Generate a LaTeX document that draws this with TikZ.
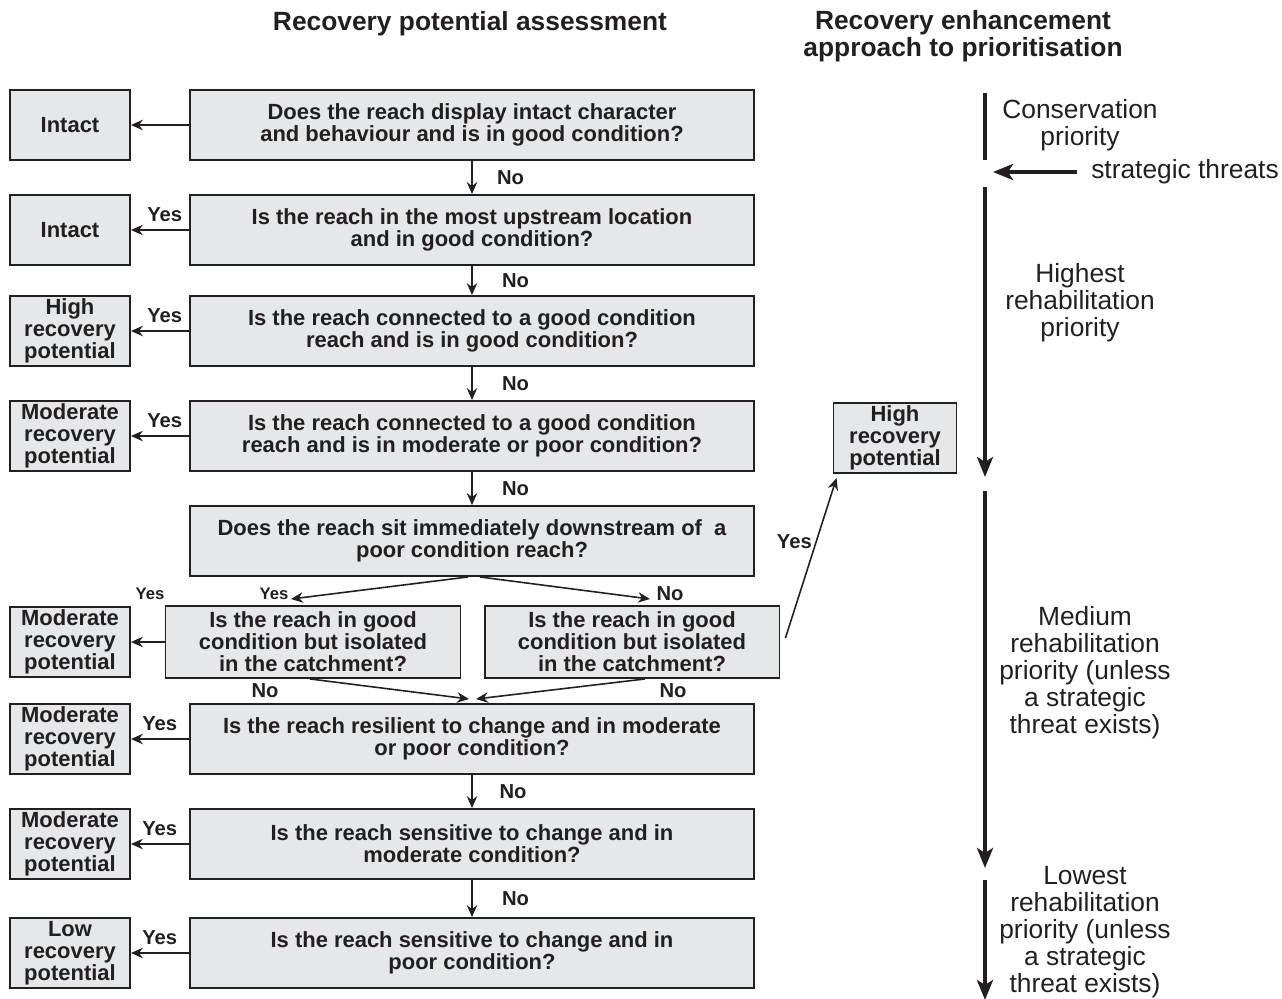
\documentclass[tikz,border=0pt]{standalone}
\usepackage{fontspec}
\setmainfont{Liberation Sans}
\usetikzlibrary{arrows.meta,positioning,calc}
\definecolor{boxgrey}{HTML}{E6E7E8}
\definecolor{ink}{HTML}{231F20}
\newcommand{\qfont}{\fontsize{12.5}{12.6}\selectfont\bfseries}
\newcommand{\afont}{\fontsize{11.5}{12}\selectfont\bfseries}
\newcommand{\smallafont}{\fontsize{9.5}{10}\selectfont\bfseries}
\newcommand{\pfont}{\fontsize{15}{15.4}\selectfont}
\newcommand{\tfont}{\fontsize{15}{15.4}\selectfont\bfseries}
\tikzset{
  qbox/.style    = {draw=ink, line width=1.1pt, fill=boxgrey, rectangle,
                    minimum width=11.3cm, minimum height=1.4cm, align=center,
                    font=\qfont, text=ink, inner sep=1pt},
  rbox/.style    = {qbox, minimum width=2.4cm},
  sbox/.style    = {qbox, minimum width=5.9cm, minimum height=1.44cm},
  flow/.style    = {-{Stealth[length=2.4mm,width=2.1mm,inset=0.8mm]}, line width=0.9pt, draw=ink},
  ans/.style     = {font=\afont, text=ink, inner sep=1pt},
  band/.style    = {line width=2.3pt, draw=ink},
  bandarr/.style = {band, -{Stealth[length=4mm,width=3.2mm,inset=1mm]}},
  prio/.style    = {align=center, font=\pfont, text=ink},
  heading/.style = {align=center, font=\tfont, text=ink},
}

\begin{document}
\begin{tikzpicture}[x=0.02cm,y=-0.02cm]
\useasboundingbox (0,0) rectangle (1282,998);

% headings
\node[heading] (headL) at (470,24) {Recovery potential assessment};
\node[heading] (headR) at (963,36) {Recovery enhancement\\approach to prioritisation};

% question boxes
\node[qbox] (q1) at (472,125) {Does the reach display intact character\\and behaviour and is in good condition?};
\node[qbox] (q2) at (472,230) {Is the reach in the most upstream location\\and in good condition?};
\node[qbox] (q3) at (472,331) {Is the reach connected to a good condition\\reach and is in good condition?};
\node[qbox] (q4) at (472,436) {Is the reach connected to a good condition\\reach and is in moderate or poor condition?};
\node[qbox] (q5) at (472,541) {Does the reach sit immediately downstream of \ a\\poor condition reach?};
\node[sbox] (q6a) at (313,642) {Is the reach in good\\condition but isolated\\in the catchment?};
\node[sbox] (q6b) at (632,642) {Is the reach in good\\condition but isolated\\in the catchment?};
\node[qbox] (q7) at (472,739) {Is the reach resilient to change and in moderate\\or poor condition?};
\node[qbox] (q8) at (472,844) {Is the reach sensitive to change and in\\moderate condition?};
\node[qbox] (q9) at (472,953) {Is the reach sensitive to change and in\\poor condition?};

% outcome boxes
\node[rbox] (r1) at (70,125) {Intact};
\node[rbox] (r2) at (70,230) {Intact};
\node[rbox] (r3) at (70,331) {High\\recovery\\potential};
\node[rbox] (r4) at (70,436) {Moderate\\recovery\\potential};
\node[rbox] (r6) at (70,642) {Moderate\\recovery\\potential};
\node[rbox] (r7) at (70,739) {Moderate\\recovery\\potential};
\node[rbox] (r8) at (70,844) {Moderate\\recovery\\potential};
\node[rbox] (r9) at (70,953) {Low\\recovery\\potential};
\node[rbox, minimum width=2.46cm] (hrp) at (895,438) {High\\recovery\\potential};

% yes branches
\draw[flow] (q1.west) -- (r1.east);
\draw[flow] (q2.west) -- node[ans, above=3pt, xshift=0.1cm] {Yes} (r2.east);
\draw[flow] (q3.west) -- node[ans, above=3pt, xshift=0.1cm] {Yes} (r3.east);
\draw[flow] (q4.west) -- node[ans, above=3pt, xshift=0.1cm] {Yes} (r4.east);
\draw[flow] (q6a.west) -- (r6.east);
\node[ans, font=\smallafont] (yes6) at (150,594) {Yes};
\draw[flow] (q7.west) -- node[ans, above=3pt] {Yes} (r7.east);
\draw[flow] (q8.west) -- node[ans, above=3pt] {Yes} (r8.east);
\draw[flow] (q9.west) -- node[ans, above=3pt] {Yes} (r9.east);

% no branches
\draw[flow] (q1) -- node[ans, right=0.45cm] {No} (q2);
\draw[flow] (q2) -- node[ans, right=0.55cm] {No} (q3);
\draw[flow] (q3) -- node[ans, right=0.55cm] {No} (q4);
\draw[flow] (q4) -- node[ans, right=0.55cm] {No} (q5);
\draw[flow] (q7) -- node[ans, right=0.5cm] {No} (q8);
\draw[flow] (q8) -- node[ans, right=0.55cm] {No} (q9);

% split below q5
\coordinate (splitL) at (291,599);
\coordinate (splitR) at (650,599);
\draw[flow] ($(q5.south)+(-4,0)$) -- (splitL)
  node[ans, font=\smallafont, anchor=east, yshift=0.1cm] {Yes};
\draw[flow] ($(q5.south)+(8,0)$) -- (splitR)
  node[ans, anchor=west, yshift=0.1cm, xshift=0.08cm] {No};

% merge into q7
\coordinate (mergeL) at (469,699);
\coordinate (mergeR) at (476,699);
\draw[flow] ($(q6a.south)+(-3,0)$) -- (mergeL);
\draw[flow] ($(q6b.south)+(13,0)$) -- (mergeR);
\node[ans] (no6a) at (265,691) {No};
\node[ans] (no6b) at (673,691) {No};

% isolated good reach
\draw[flow] ($(q6b.east)+(5,-4)$) -- node[ans, pos=0.6, left=1pt] {Yes} ($(hrp.south west)+(4,4)$);

% prioritisation column
\node[prio] (cons) at (1080,125) {Conservation\\priority};
\node[prio] (threat) at (1185,172) {strategic threats};
\node[prio] (high) at (1080,303) {Highest\\rehabilitation\\priority};
\node[prio] (med) at (1085,673) {Medium\\rehabilitation\\priority (unless\\a strategic\\threat exists)};
\node[prio] (low) at (1085,932) {Lowest\\rehabilitation\\priority (unless\\a strategic\\threat exists)};
\draw[band] (985,93) -- (985,160);
\draw[bandarr] ($(threat.west)+(-8,0)$) -- (993,172);
\draw[bandarr] (985,187) -- (985,477);
\draw[bandarr] (985,491) -- (985,868);
\draw[bandarr] (985,880) -- (985,1000);
\end{tikzpicture}
\end{document}
